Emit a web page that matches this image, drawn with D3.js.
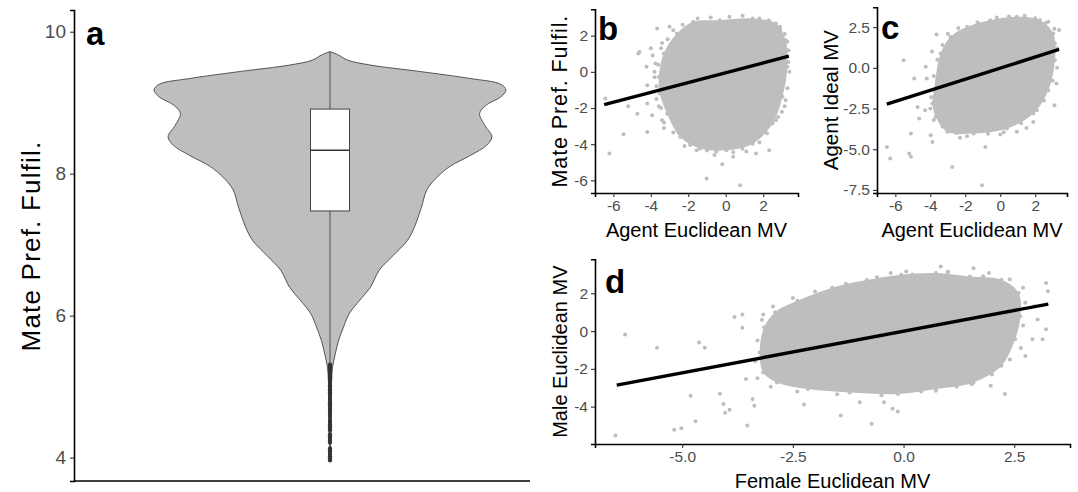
<!DOCTYPE html>
<html>
<head>
<meta charset="utf-8">
<script src="https://cdn.jsdelivr.net/npm/d3@7"></script>
<style>
body { margin: 0; background: #fff; }
svg { display: block; }
text { font-family: "Liberation Sans", Arial, sans-serif; }
</style>
</head>
<body>
<div id="viz"></div>
<script>
// ---- panel a : violin ----
var violinVal = [9.72, 9.67, 9.60, 9.53, 9.44, 9.34, 9.26, 9.18, 9.08, 8.97, 8.85, 8.68, 8.52,
                 8.40, 8.26, 8.10, 7.93, 7.77, 7.53, 7.25, 7.06, 6.85, 6.64, 6.40, 6.22, 6.03,
                 5.84, 5.65, 5.46, 5.28, 5.09, 4.67, 3.96];
var violinWid = [0, 0.05, 0.10, 0.23, 0.51, 0.80, 0.97, 1.00, 0.97, 0.89, 0.85, 0.88, 0.92,
                 0.89, 0.80, 0.68, 0.60, 0.55, 0.52, 0.48, 0.44, 0.36, 0.28, 0.23, 0.17, 0.11,
                 0.077, 0.049, 0.030, 0.015, 0.009, 0.005, 0.002];
var boxQ = [7.475, 8.33, 8.91];      // q1, median, q3
var whiskerA = [5.32, 9.72];
var outliersA = [5.31, 5.29, 5.27, 5.25, 5.23, 5.21, 5.19, 5.17, 5.15, 5.13, 5.11, 5.09, 5.07,
                 5.05, 5.02, 5.00, 4.98, 4.95, 4.92, 4.90, 4.87, 4.84, 4.81, 4.78, 4.75, 4.72,
                 4.69, 4.66, 4.63, 4.60, 4.57, 4.53, 4.50, 4.47, 4.44, 4.41, 4.38, 4.33, 4.30,
                 4.27, 4.24, 4.21, 4.13, 4.10, 4.08, 4.05, 4.02, 3.99, 3.96];
var ticksA = [4, 6, 8, 10];

// ---- panel b : agent euclidean MV vs mate pref fulfil ----
var cloudB = [[-3.57, -0.28], [-3.31, 1.01], [-2.61, 2.12], [-1.73, 2.77], [-0.32, 2.86], [1.44, 2.95],
              [2.68, 2.68], [3.2, 1.75], [3.29, 0.28], [3.03, -1.38], [2.5, -2.86], [1.44, -3.97],
              [0.04, -4.34], [-1.37, -4.24], [-2.43, -3.6], [-3.13, -2.31], [-3.52, -1.2]];
var edgeB = [[-3.7, -0.8], [-3.6, 0.4], [-3.45, 1.3], [-3.1, 1.8], [-2.8, 2.3], [-2.3, 2.6], [-1.5, 2.95],
             [-0.8, 3.0], [0.2, 3.05], [0.9, 3.1], [1.8, 2.95], [2.3, 2.85], [2.9, 2.4], [3.15, 2.1],
             [3.35, 1.2], [3.4, 0.0], [3.3, -0.9], [3.15, -1.9], [2.8, -2.5], [2.2, -3.4], [1.8, -3.9],
             [0.9, -4.25], [0.4, -4.45], [-0.5, -4.4], [-1.0, -4.35], [-1.9, -4.05], [-2.8, -3.35],
             [-3.3, -2.8], [-3.45, -2.0], [-3.7, -1.5], [-3.8, 0.0], [-3.3, -3.1]];
var ptsB = [[-6.43, -1.48], [-6.21, -4.52], [-5.46, -3.45], [-5.21, -1.9], [-4.72, -2.31], [-4.67, 1.01],
            [-4.6, 1.11], [-4.19, -0.74], [-4.23, 0.28], [-4.19, -1.75], [-4.19, -3.32], [-3.93, -2.4],
            [-3.75, 0.46], [-3.66, 2.4], [-3.57, -1.9], [-3.4, -2.68], [-1.02, -5.9], [-0.18, -5.11],
            [0.77, -6.27], [-1.55, -4.34], [3.12, -0.46], [3.29, 1.66], [2.68, -2.68], [1.62, -4.52],
            [2.32, -4.34], [3.2, -1.57], [3.35, 0.55], [-3.9, 0.9], [-3.8, -0.3], [-3.0, 2.5],
            [-2.2, -4.1], [-0.6, -4.6], [0.4, -4.7], [1.1, -4.4], [2.9, 2.5], [3.0, -2.2],
            [-4.0, 1.3], [-3.4, 1.6]];
var fitXb = [-6.49, 3.37], fitYb = [-1.81, 0.87];

// ---- panel c : agent euclidean MV vs agent ideal MV ----
var cloudC = [[-3.79, -1.37], [-3.41, 0.88], [-2.84, 1.91], [-1.89, 2.52], [-0.57, 2.93], [0.95, 3.14],
              [2.27, 2.93], [3.03, 2.11], [3.13, 0.47], [2.75, -1.37], [1.89, -2.81], [0.38, -3.73],
              [-1.52, -4.04], [-3.03, -3.93], [-3.69, -3.01], [-3.88, -2.19]];
var edgeC = [[-3.95, -1.8], [-3.8, -0.5], [-3.6, 0.5], [-3.3, 1.4], [-3.0, 2.1], [-2.4, 2.45], [-1.3, 2.8],
             [-0.2, 3.1], [0.5, 3.15], [1.4, 3.2], [2.0, 3.05], [2.6, 2.75], [3.1, 2.4], [3.25, 1.2],
             [3.25, 0.0], [3.0, -0.8], [2.5, -2.0], [2.1, -2.6], [1.2, -3.4], [0.2, -3.95], [-0.7, -4.05],
             [-1.9, -4.2], [-2.5, -4.0], [-3.3, -3.6], [-3.8, -3.2], [-4.0, -2.5]];
var ptsC = [[-6.48, -4.86], [-6.29, -5.57], [-5.53, 0.47], [-4.92, -0.66], [-4.2, -0.66], [-4.26, 0.06],
            [-3.64, 2.05], [-4.73, -2.4], [-4.64, -3.11], [-5.11, -4.04], [-5.21, -5.27], [-5.11, -5.47],
            [-3.98, -4.14], [-3.88, -4.55], [-2.75, -6.09], [-1.04, -7.21], [-0.85, -4.86], [3.22, -0.96],
            [3.37, 2.32], [2.75, 2.83], [3.13, 1.5], [1.89, -3.32], [0.95, -3.93], [-3.9, 1.0],
            [-4.3, -2.6], [-2.3, -4.3], [0.0, -4.1], [1.5, -3.7], [3.1, -2.3]];
var fitXc = [-6.49, 3.37], fitYc = [-2.23, 1.13];

// ---- panel d : female vs male euclidean MV ----
var cloudD = [[-3.25, -1.14], [-3.15, 0.2], [-2.9, 1.0], [-2.4, 1.6], [-1.61, 2.3], [-0.83, 2.7],
              [-0.05, 2.98], [0.73, 3.07], [1.5, 2.89], [2.21, 2.72], [2.6, 2.02], [2.64, 0.79],
              [2.52, -0.44], [2.21, -1.84], [1.58, -2.72], [0.73, -3.07], [-0.13, -3.33], [-1.22, -3.25],
              [-2.16, -3.07], [-2.86, -2.72], [-3.17, -2.19]];
var edgeD = [[-3.35, -1.6], [-3.3, -0.5], [-3.2, 0.6], [-2.95, 1.3], [-2.5, 1.75], [-2.0, 2.1], [-1.3, 2.5],
             [-0.6, 2.85], [0.2, 3.0], [1.0, 3.1], [1.8, 2.9], [2.4, 2.75], [2.7, 2.3], [2.75, 1.5],
             [2.7, 0.3], [2.65, -0.9], [2.4, -1.5], [2.0, -2.3], [1.2, -2.95], [0.4, -3.2], [-0.5, -3.4],
             [-1.5, -3.35], [-2.4, -3.2], [-3.0, -2.95], [-3.3, -2.5]];
var ptsD = [[-6.51, -5.53], [-6.29, -0.18], [-5.57, -0.88], [-5.18, -5.23], [-5.02, -5.14], [-4.81, -3.42],
            [-4.7, -4.77], [-4.62, -0.61], [-4.49, -0.88], [-4.15, -3.32], [-4.07, -3.86], [-3.93, -4.16],
            [-4.03, -4.33], [-3.82, 0.75], [-3.64, 0.88], [-3.64, 0.18], [-3.53, -5.0], [-3.56, -2.54],
            [-3.41, -3.6], [-3.37, -3.95], [-3.17, 0.88], [-2.25, -3.89], [-1.42, -4.47], [-0.99, -3.77],
            [-0.72, -4.91], [-0.44, -3.77], [-0.25, -4.12], [-0.13, -4.26], [-0.29, 3.07], [0.06, 3.16],
            [0.84, 3.42], [1.0, 3.16], [1.58, 3.33], [1.93, 3.07], [2.29, -3.33], [2.95, 1.32],
            [3.22, 2.54], [3.26, 2.11], [2.91, -0.44], [3.14, -0.44], [3.03, 0.61], [3.22, 0.09],
            [2.75, -1.32], [1.54, -2.81], [1.97, -2.89], [0.73, -3.16]];
var fitXd = [-6.48, 3.27], fitYd = [-2.86, 1.43];

var ticksBx = [-6, -4, -2, 0, 2], ticksBy = [-6, -4, -2, 0, 2];
var ticksCy = [-7.5, -5, -2.5, 0, 2.5];
var ticksDx = [-5, -2.5, 0, 2.5], ticksDy = [-4, -2, 0, 2];

var W = 1078, H = 492;
var grey = "#BEBEBE";
var svg = d3.select("#viz").append("svg").attr("width", W).attr("height", H);

function axes(g, x, y, xt, yt, xf, yf, fs) {
    var xa = g.append("g").attr("transform", "translate(0," + y.range()[0] + ")")
        .call(d3.axisBottom(x).tickValues(xt).tickFormat(xf).tickSizeOuter(0).tickSize(4).tickPadding(3));
    var ya = g.append("g").attr("transform", "translate(" + x.range()[0] + ",0)")
        .call(d3.axisLeft(y).tickValues(yt).tickFormat(yf).tickSizeOuter(0).tickSize(4).tickPadding(3));
    [xa, ya].forEach(function(a){
        a.select(".domain").attr("stroke", "#000").attr("stroke-width", 1.6);
        a.selectAll(".tick line").attr("stroke", "#333").attr("stroke-width", 1.1);
        a.selectAll(".tick text").attr("fill", "#4D4D4D").style("font-size", fs + "px");
    });
    return [xa, ya];
}

function dots(g, data, x, y) {
    g.append("g").selectAll("circle").data(data).enter().append("circle")
        .attr("cx", function(d){ return x(d[0]); }).attr("cy", function(d){ return y(d[1]); })
        .attr("r", 2).attr("fill", grey);
}

function scatter(spec) {
    var g = svg.append("g");
    var x = d3.scaleLinear().domain(spec.xd).range(spec.xr);
    var y = d3.scaleLinear().domain(spec.yd).range(spec.yr);
    var cloud = d3.line().x(function(d){ return x(d[0]); }).y(function(d){ return y(d[1]); })
        .curve(d3.curveCatmullRomClosed);
    g.append("path").attr("d", cloud(spec.cloud)).attr("fill", grey);
    dots(g, spec.cloud, x, y);
    dots(g, spec.edge, x, y);
    dots(g, spec.pts, x, y);
    g.append("line")
        .attr("x1", x(spec.fx[0])).attr("y1", y(spec.fy[0]))
        .attr("x2", x(spec.fx[1])).attr("y2", y(spec.fy[1]))
        .attr("stroke", "#000").attr("stroke-width", 3.4);
    axes(g, x, y, spec.xt, spec.yt, spec.xf, spec.yf, 15.5);
    g.append("text").attr("x", (spec.xr[0] + spec.xr[1]) / 2).attr("y", spec.xlabY)
        .attr("text-anchor", "middle").style("font-size", "20px").text(spec.xlab);
    g.append("text").attr("transform", "translate(" + spec.ylabX + "," + (spec.yr[0] + spec.yr[1]) / 2 + ") rotate(-90)")
        .attr("text-anchor", "middle").style("font-size", spec.ylabFs + "px")
        .style("letter-spacing", spec.ylabLs + "px").text(spec.ylab);
    g.append("text").attr("x", spec.tag[1]).attr("y", spec.tag[2])
        .style("font-size", "33px").style("font-weight", "bold").text(spec.tag[0]);
}

var intFmt = function(d){ return String(d); };
var oneFmt = function(d){ return d.toFixed(1); };

// panel a
(function(){
    var g = svg.append("g");
    var y = d3.scaleLinear().domain([3.67, 10.306]).range([481, 10]);
    var x = d3.scalePoint().domain(["MPF"]).range([130, 530]).padding(0.5);
    var w = d3.scaleLinear().domain([0, 1]).range([0, 176]);
    var cx = x("MPF");
    var prof = violinVal.map(function(v, i){ return [v, violinWid[i]]; });
    var area = d3.area().curve(d3.curveCatmullRom)
        .y(function(d){ return y(d[0]); })
        .x0(function(d){ return cx - w(d[1]); })
        .x1(function(d){ return cx + w(d[1]); });
    g.append("path").attr("d", area(prof)).attr("fill", grey).attr("stroke", "#333").attr("stroke-width", 0.8);
    g.append("line").attr("x1", cx).attr("x2", cx).attr("y1", y(whiskerA[0])).attr("y2", y(whiskerA[1]))
        .attr("stroke", "#333").attr("stroke-width", 0.8);
    g.append("rect").attr("x", cx - 19.5).attr("width", 39)
        .attr("y", y(boxQ[2])).attr("height", y(boxQ[0]) - y(boxQ[2]))
        .attr("fill", "#fff").attr("stroke", "#333").attr("stroke-width", 0.9);
    g.append("line").attr("x1", cx - 19.5).attr("x2", cx + 19.5).attr("y1", y(boxQ[1])).attr("y2", y(boxQ[1]))
        .attr("stroke", "#333").attr("stroke-width", 1.6);
    g.selectAll("circle").data(outliersA).enter().append("circle")
        .attr("cx", cx).attr("cy", function(d){ return y(d); }).attr("r", 2.1).attr("fill", "#333");
    var lx = d3.scaleLinear().domain([0, 1]).range([74, 530]);
    var ya = g.append("g").attr("transform", "translate(74,0)")
        .call(d3.axisLeft(y).tickValues(ticksA).tickFormat(intFmt).tickSizeOuter(0).tickSize(4).tickPadding(4));
    ya.select(".domain").attr("stroke", "#000").attr("stroke-width", 1.6);
    ya.selectAll(".tick line").attr("stroke", "#333").attr("stroke-width", 1.1);
    ya.selectAll(".tick text").attr("fill", "#4D4D4D").style("font-size", "19px");
    g.append("line").attr("x1", lx(0)).attr("x2", lx(1)).attr("y1", 481).attr("y2", 481)
        .attr("stroke", "#000").attr("stroke-width", 1.6);
    g.append("text").attr("transform", "translate(40,246) rotate(-90)")
        .attr("text-anchor", "middle").style("font-size", "26px").style("letter-spacing", "1.2px")
        .text("Mate Pref. Fulfil.");
    g.append("text").attr("x", 86).attr("y", 45)
        .style("font-size", "33px").style("font-weight", "bold").text("a");
})();

scatter({ xd: [-6.98, 3.86], xr: [595, 798], yd: [-6.70, 3.46], yr: [193, 9.3],
    cloud: cloudB, edge: edgeB, pts: ptsB, fx: fitXb, fy: fitYb, xt: ticksBx, yt: ticksBy, xf: intFmt, yf: intFmt,
    xlab: "Agent Euclidean MV", xlabY: 237, ylab: "Mate Pref. Fulfil.", ylabX: 567, ylabFs: 21.5, ylabLs: 0.9,
    tag: ["b", 598, 40] });

scatter({ xd: [-7.05, 3.82], xr: [877, 1067], yd: [-7.69, 3.72], yr: [193, 7.3],
    cloud: cloudC, edge: edgeC, pts: ptsC, fx: fitXc, fy: fitYc, xt: ticksBx, yt: ticksCy, xf: intFmt, yf: oneFmt,
    xlab: "Agent Euclidean MV", xlabY: 237, ylab: "Agent Ideal MV", ylabX: 838, ylabFs: 20.5, ylabLs: 0,
    tag: ["c", 881, 39] });

scatter({ xd: [-6.97, 3.76], xr: [595, 1070], yd: [-5.98, 3.8], yr: [444, 259.3],
    cloud: cloudD, edge: edgeD, pts: ptsD, fx: fitXd, fy: fitYd, xt: ticksDx, yt: ticksDy, xf: oneFmt, yf: intFmt,
    xlab: "Female Euclidean MV", xlabY: 488, ylab: "Male Euclidean MV", ylabX: 567, ylabFs: 20, ylabLs: 0,
    tag: ["d", 605, 293] });
</script>
</body>
</html>
